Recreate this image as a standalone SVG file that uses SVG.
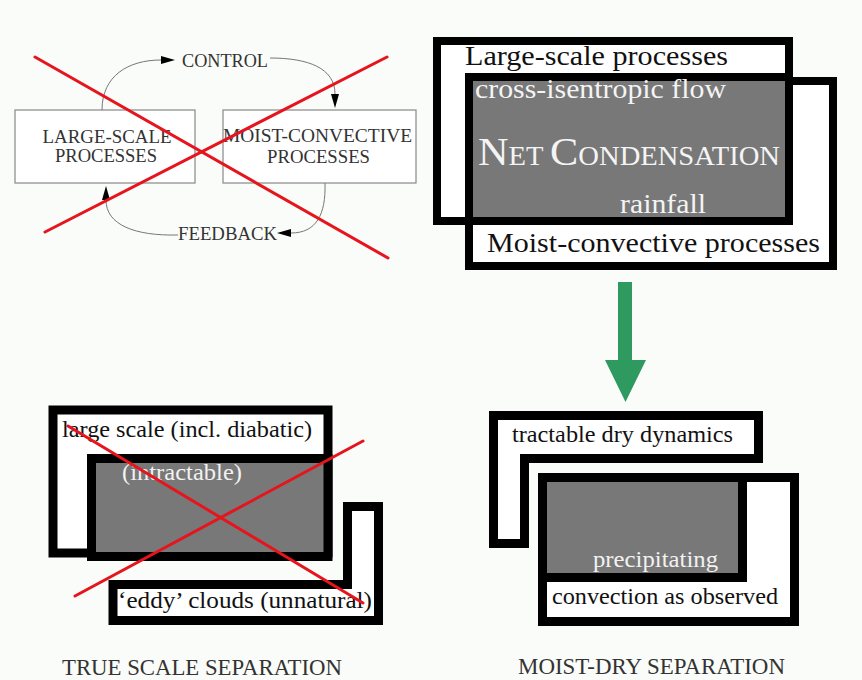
<svg xmlns="http://www.w3.org/2000/svg" width="862" height="680" viewBox="0 0 862 680" font-family="'Liberation Serif','Times New Roman',serif">
<defs>
<marker id="ah" markerUnits="userSpaceOnUse" markerWidth="16" markerHeight="10" refX="0" refY="4" orient="auto">
<path d="M0,0 L14,4 L0,8 z" fill="#000"/>
</marker>
<style>
.t{font-family:"Liberation Serif","Times New Roman",serif}
.sm{fill:#333;font-size:18px}
.bk{fill:#111;font-size:28px}
.wh{fill:#f4f4f4;font-size:28px}
.bk2{fill:#111;font-size:24px}
.wh2{fill:#f2f2f2;font-size:24px}
.cap{fill:#333;font-size:23px}
.thin{fill:#fff;stroke:#888;stroke-width:1.2}
.thick{fill:#fff;stroke:#000}
.gray{fill:#787878;stroke:#000}
.cross{stroke:#e6141d;stroke-width:3;fill:none;stroke-linecap:round}
.curve{fill:none;stroke:#777;stroke-width:1}
</style>
</defs>
<rect width="862" height="680" fill="#fafcf9"/>

<!-- top-left: crossed out loop -->
<g id="large-scale-box">
<rect class="thin" x="15" y="110" width="180" height="73"/>
<text class="t sm" x="107" y="143" text-anchor="middle" textLength="129" lengthAdjust="spacingAndGlyphs">LARGE-SCALE</text>
<text class="t sm" x="106" y="162" text-anchor="middle" textLength="102" lengthAdjust="spacingAndGlyphs">PROCESSES</text>
</g>
<g id="moist-convective-box">
<rect class="thin" x="223" y="110" width="193" height="73"/>
<text class="t sm" x="317.5" y="142" text-anchor="middle" textLength="189" lengthAdjust="spacingAndGlyphs">MOIST-CONVECTIVE</text>
<text class="t sm" x="318.5" y="163" text-anchor="middle" textLength="103" lengthAdjust="spacingAndGlyphs">PROCESSES</text>
</g>
<g id="connectors">
<path class="curve" d="M102,110 C102,76 128,60 161,60" marker-end="url(#ah)"/>
<path class="curve" d="M270,58 C308,58 335,68 335,94" marker-end="url(#ah)"/>
<path class="curve" d="M325,183 C326,215 316,233 291,233" marker-end="url(#ah)"/>
<path class="curve" d="M178,235 C135,236 106,225 106,200" marker-end="url(#ah)"/>
<text class="t sm" x="182" y="67" textLength="86" lengthAdjust="spacingAndGlyphs">CONTROL</text>
<text class="t sm" x="178" y="240" textLength="99" lengthAdjust="spacingAndGlyphs">FEEDBACK</text>
</g>
<g id="cross-top">
<line class="cross" x1="35" y1="57" x2="388" y2="258"/>
<line class="cross" x1="387" y1="57" x2="45" y2="232"/>
</g>

<!-- top-right -->
<g id="large-scale-processes">
<rect class="thick" stroke-width="8" x="437" y="41" width="352" height="180"/>
<text class="t bk" x="465" y="65" textLength="263" lengthAdjust="spacingAndGlyphs">Large-scale processes</text>
</g>
<g id="moist-convective-processes">
<rect class="thick" stroke-width="8" x="469" y="81" width="364" height="185"/>
<text class="t bk" x="487" y="252" textLength="333" lengthAdjust="spacingAndGlyphs">Moist-convective processes</text>
</g>
<g id="net-condensation">
<rect class="gray" stroke-width="8" x="469" y="77" width="320" height="144"/>
<text class="t wh" x="475" y="98" textLength="251" lengthAdjust="spacingAndGlyphs">cross-isentropic flow</text>
<text class="t wh" x="478" y="165" textLength="302" lengthAdjust="spacingAndGlyphs"><tspan font-size="40">N</tspan><tspan font-size="27">ET </tspan><tspan font-size="40">C</tspan><tspan font-size="27">ONDENSATION</tspan></text>
<text class="t wh" x="620" y="213" textLength="86" lengthAdjust="spacingAndGlyphs">rainfall</text>
</g>

<!-- green arrow -->
<g id="green-arrow">
<polygon points="618,282 632,282 632,360 646,360 625.5,402 605,360 618,360" fill="#2e9a60"/>
</g>

<!-- bottom-left -->
<g id="large-scale-incl-diabatic">
<rect class="thick" stroke-width="9" x="53" y="410" width="275" height="143"/>
<text class="t bk2" x="62" y="437" textLength="250" lengthAdjust="spacingAndGlyphs">large scale (incl. diabatic)</text>
</g>
<g id="intractable">
<rect class="gray" stroke-width="9" x="91.5" y="458.5" width="236.5" height="98"/>
<text class="t wh2" x="122" y="480" textLength="120" lengthAdjust="spacingAndGlyphs">(intractable)</text>
</g>
<g id="eddy-clouds">
<polygon class="thick" stroke-width="9" points="113,584.5 347.5,584.5 347.5,506.5 378.5,506.5 378.5,620.5 113,620.5"/>
<text class="t bk2" x="118" y="608" textLength="254" lengthAdjust="spacingAndGlyphs">‘eddy’ clouds (unnatural)</text>
</g>
<g id="cross-bottom">
<line class="cross" x1="68" y1="426" x2="363" y2="603"/>
<line class="cross" x1="363" y1="441" x2="75" y2="596"/>
</g>

<!-- bottom-right -->
<g id="tractable-dry-dynamics">
<polygon class="thick" stroke-width="9" points="493.5,415.5 758.5,415.5 758.5,458.5 524.5,458.5 524.5,543.5 493.5,543.5"/>
<text class="t bk2" x="512" y="442" textLength="221" lengthAdjust="spacingAndGlyphs">tractable dry dynamics</text>
</g>
<g id="convection-as-observed">
<rect class="thick" stroke-width="9" x="542.5" y="477.5" width="252" height="144"/>
<text class="t bk2" x="552" y="604" textLength="226" lengthAdjust="spacingAndGlyphs">convection as observed</text>
</g>
<g id="precipitating">
<rect class="gray" stroke-width="9" x="542.5" y="477.5" width="200" height="100"/>
<text class="t wh2" x="593" y="567" textLength="125" lengthAdjust="spacingAndGlyphs">precipitating</text>
</g>

<!-- captions -->
<text class="t cap" x="62" y="675" textLength="280" lengthAdjust="spacingAndGlyphs">TRUE SCALE SEPARATION</text>
<text class="t cap" x="518" y="674" textLength="267" lengthAdjust="spacingAndGlyphs">MOIST-DRY SEPARATION</text>
</svg>
